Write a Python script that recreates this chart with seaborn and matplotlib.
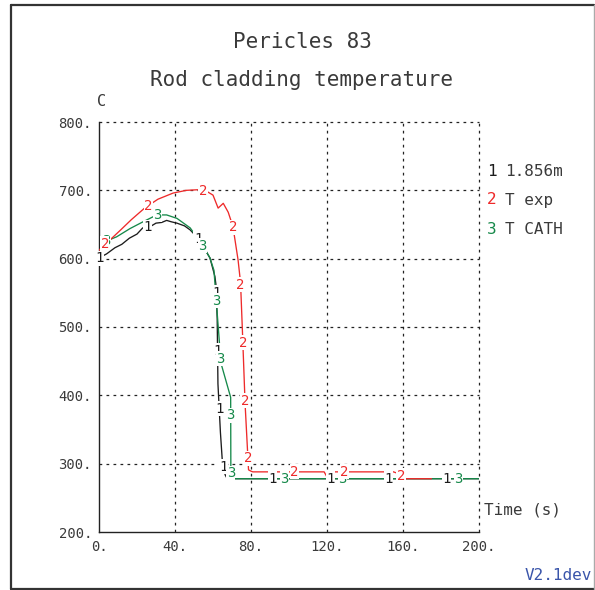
import numpy as np
import pandas as pd
import matplotlib
matplotlib.use("Agg")
import matplotlib.pyplot as plt
from matplotlib.ticker import MultipleLocator, FuncFormatter
from matplotlib.lines import Line2D
import seaborn as sns

# ---------------- data ----------------
t_black = [0, 0.5, 2, 4, 8.4, 12, 16, 20, 23, 27, 30, 33, 35.6, 38, 41, 45, 48, 51.4,
           54.8, 58.4, 61, 61.5, 62.2, 62.6, 63.9, 65, 65.6, 66.5, 67.5, 200]
T_black = [598, 601, 604, 607, 616, 621, 630, 636, 645, 647, 652, 653, 656, 654, 652,
           648, 642, 632, 618, 601, 574, 563, 513, 417, 346, 300, 291, 283, 278, 278]

t_red = [0, 3, 6, 11, 17, 24, 31, 39, 46, 53, 57, 60, 62.7, 65.4, 68, 70.5, 73.2, 74.5,
         75.5, 76.9, 78.7, 80, 81, 118.5, 120.5, 122.5, 155, 158, 161.5, 175]
T_red = [612, 622, 628, 641, 657, 674, 687, 696, 700, 701, 698, 693, 674, 681, 668, 647,
         598, 565, 493, 387, 291, 289, 288, 288, 278, 288, 288, 285, 278, 278]

t_green = [0, 3.2, 9.3, 16.3, 23.2, 30.4, 35.6, 41, 48, 54.9, 58.4, 60.5, 62, 64.2,
           69.3, 69.4, 69.8, 200]
T_green = [608, 625, 632, 644, 654, 664, 664, 659, 645, 618, 601, 583, 528, 447,
           397, 285, 278, 278]

series_ids = ["1", "2", "3"]
series_names = ["1.856m", "T exp", "T CATH"]
title_lines = ["Pericles 83", "Rod cladding temperature"]
x_label = "Time (s)"
y_label = "C"
version = "V2.1dev"

colors = {"1": "#1c1c1c", "2": "#ee2a2a", "3": "#16894a"}
MONO = "DejaVu Sans Mono"
TXT = "#3a3a3a"

sns.set_style("white")
plt.rcParams["font.family"] = [MONO, "DejaVu Sans"]

fig = plt.figure(figsize=(5.95, 5.90), dpi=100)
W, H = 595, 590
ax = fig.add_axes([99 / W, 1 - 532 / H, (479 - 99) / W, (532 - 122) / H])
ax.set_facecolor("white")

data = {"1": (t_black, T_black), "2": (t_red, T_red), "3": (t_green, T_green)}
for sid in ["1", "3", "2"]:
    tt, TT = data[sid]
    df = pd.DataFrame({"t": tt, "T": TT})
    sns.lineplot(data=df, x="t", y="T", ax=ax, color=colors[sid], lw=0.95,
                 sort=False, estimator=None, legend=False, zorder=3)

ax.set_xlim(0, 200)
ax.set_ylim(200, 800)
ax.set_xlabel("")
ax.set_ylabel("")

# grid
for x in range(40, 201, 40):
    ax.axvline(x, color="#222222", lw=0.9, ls=(0, (2.2, 3.4)), zorder=1, clip_on=False)
for y in range(300, 801, 100):
    ax.axhline(y, color="#222222", lw=0.9, ls=(0, (2.2, 3.4)), zorder=1, clip_on=False)

for s in ["top", "right"]:
    ax.spines[s].set_visible(False)
for s in ["left", "bottom"]:
    ax.spines[s].set_color("#222222")
    ax.spines[s].set_linewidth(1.0)

ax.xaxis.set_major_locator(MultipleLocator(40))
ax.xaxis.set_minor_locator(MultipleLocator(10))
ax.yaxis.set_major_locator(MultipleLocator(100))
ax.yaxis.set_minor_locator(MultipleLocator(25))
fmt = FuncFormatter(lambda v, p: f"{v:.0f}.")
ax.xaxis.set_major_formatter(fmt)
ax.yaxis.set_major_formatter(fmt)
ax.tick_params(which="major", length=0, pad=5, labelsize=10, labelcolor=TXT)
ax.tick_params(which="minor", direction="in", length=6, width=1.0, color="#222222")
ax.tick_params(axis="x", which="major", pad=6)
ax.tick_params(axis="y", which="major", pad=5)

# curve labels placed at equal arc-length spacing along each curve
def place_labels(tt, TT, ch, color, offset, spacing=58):
    pts = ax.transData.transform(np.column_stack([tt, TT]))
    seg = np.hypot(np.diff(pts[:, 0]), np.diff(pts[:, 1]))
    s = np.concatenate([[0], np.cumsum(seg)])
    targets = np.arange(offset, s[-1], spacing)
    xs = np.interp(targets, s, pts[:, 0])
    ys = np.interp(targets, s, pts[:, 1])
    dpos = ax.transData.inverted().transform(np.column_stack([xs, ys]))
    for x, y in dpos:
        ax.text(x, y, ch, color=color, fontsize=10, ha="center", va="center",
                zorder=5, bbox=dict(facecolor="white", edgecolor="none", pad=0.3))

place_labels(t_black, T_black, "1", colors["1"], 2)
place_labels(t_green, T_green, "3", colors["3"], 14)
place_labels(t_red, T_red, "2", colors["2"], 9)

# titles
fig.text(302 / W, 1 - 42 / H, title_lines[0], ha="center", va="center", fontsize=15, color=TXT)
fig.text(302 / W, 1 - 80 / H, title_lines[1], ha="center", va="center", fontsize=15, color=TXT)

fig.text(97 / W, 1 - 101 / H, y_label, ha="left", va="center", fontsize=11, color=TXT)
fig.text(484 / W, 1 - 510 / H, x_label, ha="left", va="center", fontsize=11.5, color=TXT)
fig.text(592 / W, 1 - 576 / H, version, ha="right", va="center", fontsize=11.5, color="#3a55aa")

# legend
for i, (sid, name) in enumerate(zip(series_ids, series_names)):
    y = 1 - (171 + 29 * i) / H
    fig.text(487 / W, y, sid, ha="left", va="center", fontsize=11.5, color=colors[sid])
    fig.text(505 / W, y, name, ha="left", va="center", fontsize=11.5, color=TXT)

# figure border
fig.add_artist(Line2D([11 / W, 11 / W], [1 - 589 / H, 1 - 5 / H], transform=fig.transFigure, color="#333333", lw=1.6))
fig.add_artist(Line2D([11 / W, 594 / W], [1 - 5 / H, 1 - 5 / H], transform=fig.transFigure, color="#333333", lw=1.6))
fig.add_artist(Line2D([11 / W, 594 / W], [1 - 589 / H, 1 - 589 / H], transform=fig.transFigure, color="#333333", lw=1.6))
fig.add_artist(Line2D([594 / W, 594 / W], [1 - 589 / H, 1 - 5 / H], transform=fig.transFigure, color="#aaaaaa", lw=1.0))

fig.savefig("out.png", dpi=100, facecolor="white")
